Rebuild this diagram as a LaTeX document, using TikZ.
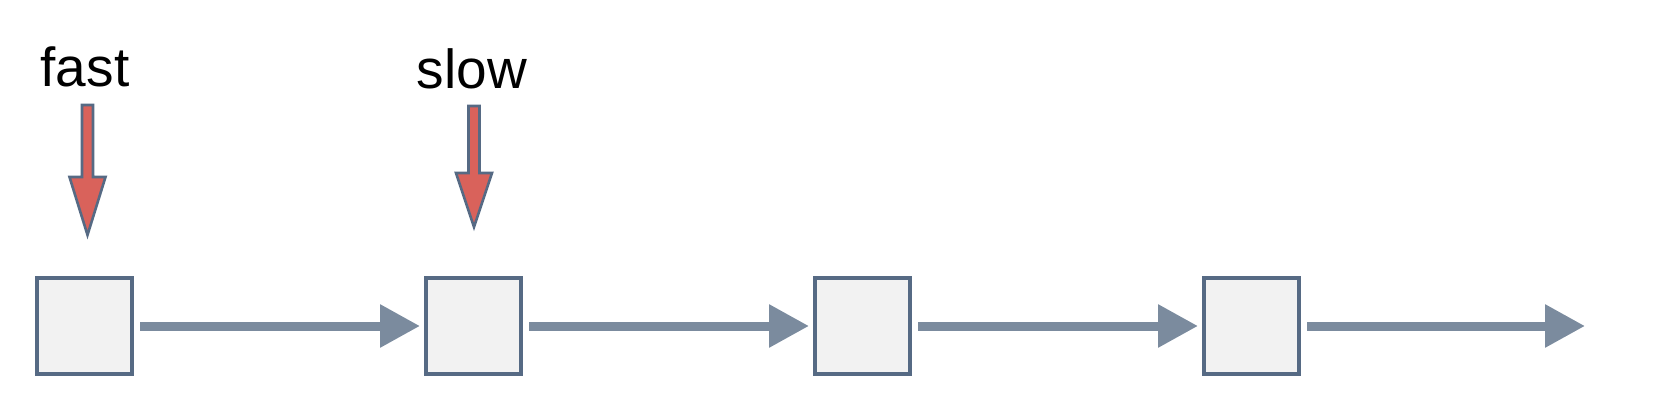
\documentclass[tikz,border=0pt]{standalone}
\usepackage{fontspec}
\setmainfont{Liberation Sans}
\usepackage{xcolor}
\usetikzlibrary{arrows.meta,positioning}

\definecolor{boxline}{HTML}{566A84}
\definecolor{boxfill}{HTML}{F2F2F2}
\definecolor{linkcol}{HTML}{7B8B9E}
\definecolor{ptrred}{HTML}{D9625B}

% red pointer: x, top, neck, tip (px units)
\newcommand{\pointer}[4]{%
 \draw[ptr] (#1-5.5,#2) -- (#1+5.5,#2) -- (#1+5.5,#3) -- (#1+18,#3) -- (#1,#4)
  -- (#1-18,#3) -- (#1-5.5,#3) -- cycle;}

\begin{document}
\begin{tikzpicture}[x=0.5pt,y=0.5pt,node distance=145pt,
 font=\fontsize{27.5}{32}\selectfont,
 box/.style={draw=boxline,line width=2pt,fill=boxfill,inner sep=0pt,
  minimum width=47.5pt,minimum height=48pt},
 lbl/.style={inner sep=0pt,anchor=base},
 link/.style={-{Triangle[length=20pt,width=20.5pt]},draw=linkcol,
  line width=4.5pt,shorten <=3pt,shorten >=2pt},
 ptr/.style={draw=boxline,line width=1.3pt,fill=ptrred,line join=miter}]
\useasboundingbox (0,0) rectangle (1670,418);
\node[box] (n1) at (84.5,92) {};
\node[box,right=of n1] (n2) {};
\node[box,right=of n2] (n3) {};
\node[box,right=of n3] (n4) {};
\coordinate (tail) at (1585,92);
\node[lbl] (fast) at (85,331) {fast};
\node[lbl] (slow) at (472,329) {slow};
\pointer{87.5}{313}{241}{183}
\pointer{474}{312}{245}{191}
\draw[link] (n1) -- (n2);
\draw[link] (n2) -- (n3);
\draw[link] (n3) -- (n4);
\draw[link,shorten >=0pt] (n4) -- (tail);
\end{tikzpicture}
\end{document}
